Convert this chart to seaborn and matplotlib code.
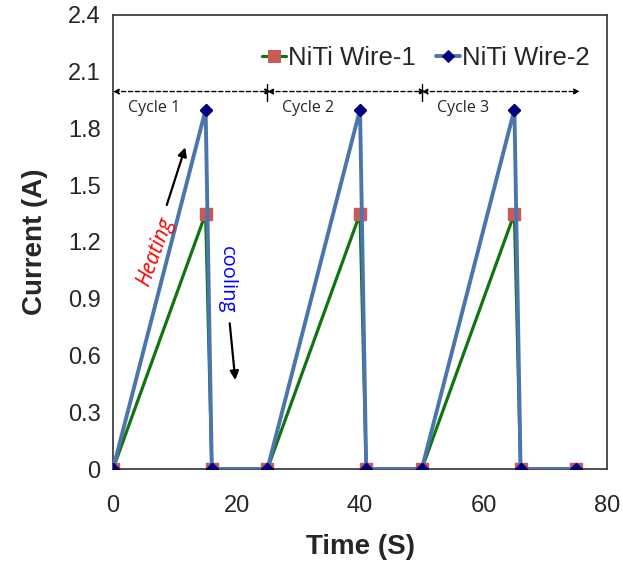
import matplotlib
matplotlib.use("Agg")
import matplotlib.pyplot as plt
import seaborn as sns
import pandas as pd

time_s = [0, 15, 16, 25, 40, 41, 50, 65, 66, 75]
wire1 = [0, 1.35, 0, 0, 1.35, 0, 0, 1.35, 0, 0]
wire2 = [0, 1.9, 0, 0, 1.9, 0, 0, 1.9, 0, 0]
series_names = ["NiTi Wire-1", "NiTi Wire-2"]
cycle_bounds = [0, 25, 50, 75]
cycle_labels = ["Cycle 1", "Cycle 2", "Cycle 3"]
cycle_y = 1.995
x_ticks = [0, 20, 40, 60, 80]
y_ticks = [0, 0.3, 0.6, 0.9, 1.2, 1.5, 1.8, 2.1, 2.4]
y_tick_labels = ["0", "0.3", "0.6", "0.9", "1.2", "1.5", "1.8", "2.1", "2.4"]

sns.set_style("white")
plt.rcParams['font.family'] = ['Liberation Sans', 'DejaVu Sans']

df1 = pd.DataFrame({"t": time_s, "I": wire1})
df2 = pd.DataFrame({"t": time_s, "I": wire2})

fig = plt.figure(figsize=(6.23, 5.73), dpi=100)
ax = fig.add_axes([0.1814, 0.1815, 0.793, 0.7925])

sns.lineplot(data=df1, x="t", y="I", ax=ax, sort=False, color="#107510", lw=2.3,
             marker="s", markersize=9, markerfacecolor="#c85a58", markeredgecolor="#c85a58",
             label=series_names[0], zorder=2)
sns.lineplot(data=df2, x="t", y="I", ax=ax, sort=False, color="#4a76ad", lw=2.8,
             marker="D", markersize=6.5, markerfacecolor="#000080", markeredgecolor="#000080",
             label=series_names[1], zorder=3)
# keep wire-1 square markers visible under the wire-2 diamonds
ax.plot(time_s, wire1, ls="none", marker="s", markersize=9, color="#c85a58", zorder=2.5)
ax.plot(time_s, wire2, ls="none", marker="D", markersize=6.5, color="#000080", zorder=4)

ax.set_xlim(0, 80)
ax.set_ylim(0, 2.4)
ax.set_xticks(x_ticks)
ax.set_yticks(y_ticks)
ax.set_yticklabels(y_tick_labels)
ax.tick_params(axis="both", direction="in", labelsize=17, length=5, width=1, color="#404040")
ax.tick_params(axis="x", pad=19)
ax.tick_params(axis="y", pad=9)
ax.set_xlabel("Time (S)", fontsize=20, fontweight="bold", labelpad=12)
ax.set_ylabel("Current (A)", fontsize=20, fontweight="bold", labelpad=14)
for s in ["left", "bottom", "top", "right"]:
    ax.spines[s].set_color("#404040")
    ax.spines[s].set_linewidth(1.3)

# cycle arrows
for i in range(3):
    ax.annotate("", xy=(cycle_bounds[i + 1] + 0.6, cycle_y), xytext=(cycle_bounds[i], cycle_y),
                arrowprops=dict(arrowstyle="<|-|>", ls=(0, (3, 2)), lw=1, color="black",
                                mutation_scale=8, shrinkA=0, shrinkB=0))
    ax.text(cycle_bounds[i] + 2.4, 1.908, cycle_labels[i], fontsize=11.5, ha="left", va="center",
            family=["Open Sans", "DejaVu Sans"])
for b in cycle_bounds[1:3]:
    ax.plot([b, b], [1.945, 2.035], color="black", lw=1)

# heating / cooling annotations
ax.text(6.8, 1.15, "Heating", color="red", fontsize=15, rotation=70, ha="center", va="center",
        style="italic", family=["Open Sans", "DejaVu Sans"])
ax.annotate("", xy=(11.7, 1.70), xytext=(8.7, 1.395),
            arrowprops=dict(arrowstyle="-|>", lw=1.6, color="black", mutation_scale=13, shrinkA=0, shrinkB=0))
ax.text(18.5, 1.0, "cooling", color="blue", fontsize=14.5, rotation=-90, ha="center", va="center",
        family=["Open Sans", "DejaVu Sans"])
ax.annotate("", xy=(19.8, 0.47), xytext=(18.9, 0.77),
            arrowprops=dict(arrowstyle="-|>", lw=1.6, color="black", mutation_scale=13, shrinkA=0, shrinkB=0))

h, l = ax.get_legend_handles_labels()
order = [l.index(series_names[0]), l.index(series_names[1])]
ax.legend([h[i] for i in order], [l[i] for i in order], loc="center right", bbox_to_anchor=(0.965, 0.905),
          ncol=2, frameon=False, fontsize=18.5, handlelength=0.9, handletextpad=0.1, columnspacing=0.8,
          borderaxespad=0, borderpad=0)

fig.savefig("out.png", dpi=100)
